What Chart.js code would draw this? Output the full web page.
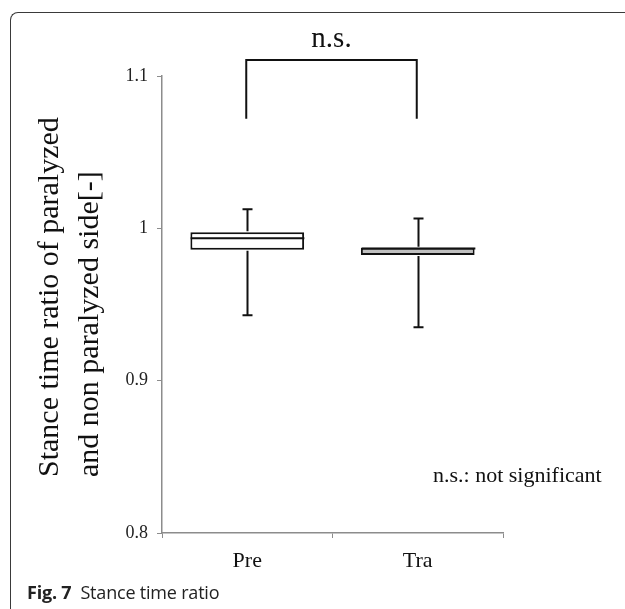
<!DOCTYPE html>
<html lang="en-us">
<head>
<meta charset="UTF-8">
<title>Stance time ratio</title>
<script src="https://cdn.jsdelivr.net/npm/chart.js"></script>
<style>
	body {padding: 0; margin: 0; background: #fff;}
	#wrap {position: relative; width: 625px; height: 609px; overflow: hidden;}
	#frame {position: absolute; left: 10px; top: 12px; width: 800px; height: 800px;
		border-top: 1.5px solid #3a3a3a; border-left: 1.5px solid #3a3a3a; border-top-left-radius: 8px;}
	#chartBox {position: absolute; left: 0; top: 0; width: 625px; height: 609px;}
	#caption {position: absolute; left: 27px; top: 580px; font-family: "Open Sans", "Noto Sans", sans-serif;
		font-size: 18px; color: #222; white-space: nowrap; letter-spacing: -0.2px;}
	#caption b {font-weight: 700; margin-right: 9px;}
</style>
</head>
<body>
<div id="wrap">
	<div id="frame"></div>
	<div id="chartBox"><canvas id="myChart"></canvas></div>
	<div id="caption"><b>Fig. 7</b>Stance time ratio</div>
</div>

<script>
// box plot values
var categories = ['Pre', 'Tra'];
var whiskerLow = [0.943, 0.935];
var quartile1 = [0.986, 0.9825];
var medians = [0.9935, 0.9868];
var quartile3 = [0.9975, 0.9873];
var whiskerHigh = [1.0125, 1.0065];
var boxFill = ['#ffffff', '#c0c0c0'];
var yTicks = [0.8, 0.9, 1.0, 1.1];
// significance bracket (bottom of legs, top bar)
var sigLegBottom = 1.072;
var sigTop = 1.1105;

var serif = '"Liberation Serif", "Times New Roman", serif';

var whiskerPlugin = {
	id: 'whiskers',
	afterDatasetsDraw: function(chart) {
		var ctx = chart.ctx, x = chart.scales.x, y = chart.scales.y;
		var bars = chart.getDatasetMeta(0).data;
		ctx.save();
		ctx.strokeStyle = '#111';
		ctx.lineWidth = 2;
		categories.forEach(function(c, i) {
			var px = Math.round(x.getPixelForValue(i)) + 0.5;
			var half = bars[i].width / 2;
			var yHi = y.getPixelForValue(whiskerHigh[i]);
			var yLo = y.getPixelForValue(whiskerLow[i]);
			ctx.beginPath();
			ctx.moveTo(px, yHi); ctx.lineTo(px, y.getPixelForValue(quartile3[i]) - 1);
			ctx.moveTo(px, y.getPixelForValue(quartile1[i]) + 1); ctx.lineTo(px, yLo);
			ctx.moveTo(px - 5, yHi); ctx.lineTo(px + 5, yHi);
			ctx.moveTo(px - 5, yLo); ctx.lineTo(px + 5, yLo);
			var ym = y.getPixelForValue(medians[i]);
			ctx.moveTo(px - half, ym); ctx.lineTo(px + half, ym);
			ctx.stroke();
		});
		ctx.restore();
	},
	afterDraw: function(chart) {
		var ctx = chart.ctx, x = chart.scales.x, y = chart.scales.y;
		ctx.save();
		// bracket
		var x0 = x.getPixelForValue(0) - 1, x1 = x.getPixelForValue(1) - 1;
		var yb = y.getPixelForValue(sigLegBottom), yt = y.getPixelForValue(sigTop);
		ctx.strokeStyle = '#111';
		ctx.lineWidth = 2;
		ctx.beginPath();
		ctx.moveTo(x0, yb); ctx.lineTo(x0, yt); ctx.lineTo(x1, yt); ctx.lineTo(x1, yb);
		ctx.stroke();
		ctx.fillStyle = '#111';
		ctx.font = '29px ' + serif;
		ctx.textAlign = 'center';
		ctx.textBaseline = 'alphabetic';
		ctx.fillText('n.s.', (x0 + x1) / 2, yt - 13);
		// note
		ctx.font = '22px ' + serif;
		ctx.textAlign = 'left';
		ctx.textBaseline = 'middle';
		ctx.fillText('n.s.: not significant', 433, 476);
		// y axis title, two lines
		ctx.font = '30px ' + serif;
		ctx.translate(50, 477);
		ctx.rotate(-Math.PI / 2);
		ctx.fillText('Stance time ratio of paralyzed', 0, 0);
		ctx.fillText('and non paralyzed side[-]', 0, 40);
		ctx.restore();
	}
};

var chartCtx = document.getElementById('myChart').getContext('2d');
var myChart = new Chart(chartCtx, {
	type: 'bar',
	data: {
		labels: categories,
		datasets: [{
			data: quartile1.map(function(q, i) { return [q, quartile3[i]]; }),
			backgroundColor: boxFill,
			borderColor: '#111',
			borderWidth: 2,
			borderSkipped: false,
			categoryPercentage: 1,
			barPercentage: 0.667
		}]
	},
	options: {
		responsive: true,
		maintainAspectRatio: false,
		animation: false,
		layout: {padding: {top: 76, right: 122, left: 0, bottom: 0}},
		plugins: {legend: {display: false}, tooltip: {enabled: false}},
		scales: {
			x: {
				grid: {drawOnChartArea: false, tickLength: 5, color: '#8c8c8c', offset: true},
				border: {color: '#8c8c8c', width: 1.5},
				ticks: {color: '#111', padding: 10, font: {family: serif, size: 22}},
				afterFit: function(s) { s.height = 76; }
			},
			y: {
				min: 0.8,
				max: 1.1,
				afterBuildTicks: function(s) { s.ticks = yTicks.map(function(v) { return {value: v}; }); },
				grid: {drawOnChartArea: false, tickLength: 5, color: '#8c8c8c'},
				border: {color: '#8c8c8c', width: 1.5},
				ticks: {
					color: '#222', padding: 9, font: {family: serif, size: 18},
					callback: function(v) { return String(Number(v.toFixed(2))); }
				},
				afterFit: function(s) { s.width = 162; }
			}
		}
	},
	plugins: [whiskerPlugin]
});
</script>
</body>
</html>
